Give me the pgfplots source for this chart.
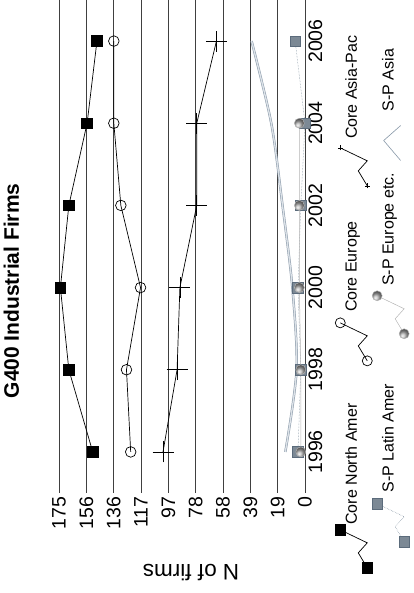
\documentclass[border=0pt]{standalone}
\usepackage{pgfplots}
\pgfplotsset{compat=1.18}
\usepackage{fontspec}
\setmainfont{Liberation Sans}
\definecolor{gridc}{HTML}{404040}
\definecolor{slate}{HTML}{5B6B7B}
\definecolor{slateline}{HTML}{7D8D9D}
\definecolor{asia}{HTML}{8797A7}
\definecolor{asiafill}{HTML}{DCE2E8}
\definecolor{eur}{HTML}{B4B4B4}
\pgfplotsset{
  zigleg/.style={legend image code/.code={\draw[##1, mark indices={1,4}, #1] plot coordinates {(0pt,-15.5pt) (15pt,-6.5pt) (25pt,-15.5pt) (38pt,11.5pt)};}},
  asialeg/.style={legend image code/.code={\draw[asia, line width=0.6pt] (0pt,-12pt) -- (20pt,5pt) -- (35pt,-12pt);}},
}
\begin{document}
\begin{tikzpicture}
\begin{scope}[rotate=90, transform shape]
\path[use as bounding box] (0,0) rectangle (593pt,414pt);
\begin{axis}[
  at={(100pt,109pt)}, anchor=south west,
  scale only axis, width=493pt, height=246pt,
  xmin=1995, xmax=2007, ymin=0, ymax=175,
  clip=false,
  axis line style={draw=none},
  xtick={1996,1998,2000,2002,2004,2006},
  xticklabels={1996,1998,2000,2002,2004,2006},
  ytick={0,19.4444,38.8889,58.3333,77.7778,97.2222,116.6667,136.1111,155.5556,175},
  yticklabels={0,19,39,58,78,97,117,136,156,175},
  major tick length=0pt,
  ymajorgrids, major grid style={gridc, line width=0.8pt},
  tick label style={font=\fontsize{19.5}{22}\selectfont},
  title={G400 Industrial Firms},
  title style={at={(axis description cs:0.41,1.169)}, anchor=center, font=\fontsize{21}{25}\selectfont\bfseries},
  ylabel={N of firms},
  ylabel style={at={(axis description cs:-0.162,0.463)}, anchor=center, font=\fontsize{22.5}{26}\selectfont},
  legend columns=3,
  legend style={at={(axis description cs:-0.163,-0.121)}, anchor=north west, draw=none, fill=none, inner sep=0pt, column sep=0pt, nodes={inner sep=0pt}, font=\fontsize{16}{19}\selectfont},
]
\addplot[black, line width=0.7pt, mark=square*, mark size=5.3pt, mark options={solid, fill=black}, zigleg={}]
 coordinates {(1996,151) (1998,168) (2000,174) (2002,168) (2004,155) (2006,148)};
\addlegendentry{\makebox[158.7pt][l]{Core North Amer}}
\addplot[black, line width=0.7pt, mark=o, mark size=5.3pt, mark options={solid}, zigleg={mark size=5pt}]
 coordinates {(1996,124) (1998,127) (2000,117) (2002,131) (2004,136) (2006,136)};
\addlegendentry{\hspace{6pt}\makebox[123.5pt][l]{Core Europe}}
\addplot[black, line width=0.7pt, mark=+, mark size=10.5pt, mark options={solid}, zigleg={mark size=2.5pt}]
 coordinates {(1996,101) (1998,91) (2000,89) (2002,77) (2004,77) (2006,63)};
\addlegendentry{\hspace{6.5pt}Core Asia-Pac}
\end{axis}
\begin{axis}[
  at={(100pt,109pt)}, anchor=south west,
  scale only axis, width=493pt, height=246pt,
  xmin=1995, xmax=2007, ymin=0, ymax=175,
  clip=false, hide axis,
  legend columns=3,
  legend style={at={(axis description cs:-0.110,-0.271)}, anchor=north west, draw=none, fill=none, inner sep=0pt, column sep=0pt, nodes={inner sep=0pt}, font=\fontsize{16}{19}\selectfont},
]
\addplot[slateline, line width=0.5pt, densely dotted, mark=square*, mark size=5.3pt, mark options={solid, fill=slate!80, draw=slate}, zigleg={}]
 coordinates {(1996,5) (1998,3) (2000,5) (2002,3) (2004,0) (2006,7)};
\addlegendentry{\hspace{6pt}\makebox[153.4pt][l]{S-P Latin Amer}}
\addplot[eur, line width=0.5pt, mark=ball, mark size=5pt, mark options={ball color=gray!55}, zigleg={}]
 coordinates {(1996,3) (1998,3) (2000,4) (2002,4) (2004,4)};
\addlegendentry{\hspace{4.7pt}\makebox[125pt][l]{S-P Europe etc.}}
\addplot[smooth, draw=asia, line width=2.4pt, no markers, forget plot]
 coordinates {(1996,14) (1998,6) (2000,9) (2002,16) (2004,24) (2006,38)};
\addplot[smooth, draw=asiafill, line width=1.4pt, no markers, asialeg]
 coordinates {(1996,14) (1998,6) (2000,9) (2002,16) (2004,24) (2006,38)};
\addlegendentry{\hspace{14pt}S-P Asia}
\end{axis}
\end{scope}
\end{tikzpicture}
\end{document}
